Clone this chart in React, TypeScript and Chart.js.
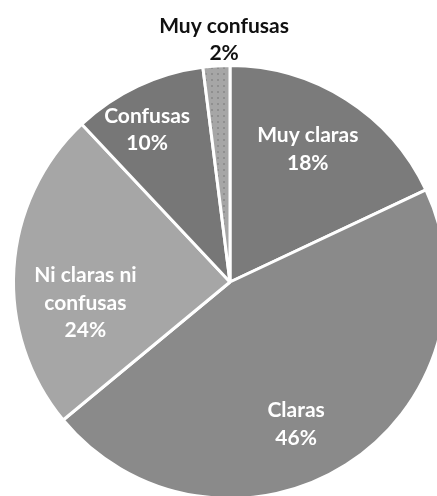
import React, { useEffect, useRef } from "react";
import { Chart, registerables } from "chart.js";

Chart.register(...registerables);

const categories = ["Muy claras", "Claras", "Ni claras ni confusas", "Confusas", "Muy confusas"];
const labelLines = [["Muy claras"], ["Claras"], ["Ni claras ni", "confusas"], ["Confusas"], ["Muy confusas"]];
const values = [18, 46, 24, 10, 2];
const sliceColors = ["#7b7b7b", "#8a8a8a", "#a6a6a6", "#777777", "#a4a4a4"];

// label placement: angle offset from slice mid (deg), radius fraction
const labelPlacement = [
  { dAng: -2.0, rf: 0.71, color: "#ffffff" },
  { dAng: 7.5, rf: 0.725, color: "#ffffff" },
  { dAng: -11.9, rf: 0.675, color: "#ffffff" },
  { dAng: -3.4, rf: 0.8, color: "#ffffff" },
  { dAng: 2.2, rf: 1.12, color: "#111111" },
];

function dotPattern(base: string, dot: string) {
  const c = document.createElement("canvas");
  c.width = 6;
  c.height = 6;
  const g = c.getContext("2d")!;
  g.fillStyle = base;
  g.fillRect(0, 0, 6, 6);
  g.fillStyle = dot;
  g.fillRect(1, 1, 2, 2);
  return g.createPattern(c, "repeat");
}

const labelPlugin = {
  id: "sliceLabels",
  afterDatasetsDraw(chart: any) {
    const ctx = chart.ctx;
    const meta = chart.getDatasetMeta(0);
    const total = values.reduce((a, b) => a + b, 0);
    ctx.save();
    ctx.font = "bold 21px Lato, 'Open Sans', sans-serif";
    ctx.textAlign = "center";
    ctx.textBaseline = "middle";
    meta.data.forEach((arc: any, i: number) => {
      const p = arc.getProps(["x", "y", "startAngle", "endAngle", "outerRadius"], true);
      const mid = (p.startAngle + p.endAngle) / 2 + (labelPlacement[i].dAng * Math.PI) / 180;
      const r = p.outerRadius * labelPlacement[i].rf;
      const cx = p.x + Math.cos(mid) * r;
      const cy = p.y + Math.sin(mid) * r;
      const lines = [...labelLines[i], Math.round((values[i] / total) * 100) + "%"];
      const lh = 27.5;
      const startY = cy - ((lines.length - 1) * lh) / 2;
      ctx.fillStyle = labelPlacement[i].color;
      lines.forEach((t, k) => ctx.fillText(t, cx, startY + k * lh));
    });
    ctx.restore();
  },
};

export default function App() {
  const ref = useRef<HTMLCanvasElement>(null);
  useEffect(() => {
    if (!ref.current) return;
    const colors: any[] = sliceColors.map((c) => c);
    colors[4] = dotPattern("#a6a6a6", "#8f8f8f");
    const chart = new Chart(ref.current, {
      type: "pie",
      data: {
        labels: categories,
        datasets: [
          {
            data: values,
            backgroundColor: colors,
            borderColor: "#ffffff",
            borderWidth: 3,
          },
        ],
      },
      options: {
        animation: false,
        responsive: false,
        maintainAspectRatio: false,
        rotation: 0,
        layout: { padding: 12 },
        plugins: { legend: { display: false }, tooltip: { enabled: false } },
      },
      plugins: [labelPlugin],
    });
    return () => chart.destroy();
  }, []);
  return (
    <div style={{ position: "fixed", left: 0, top: 0, width: 460, height: 564, background: "#fff" }}>
      <canvas ref={ref} width={460} height={564} style={{ width: 460, height: 564 }} />
    </div>
  );
}
